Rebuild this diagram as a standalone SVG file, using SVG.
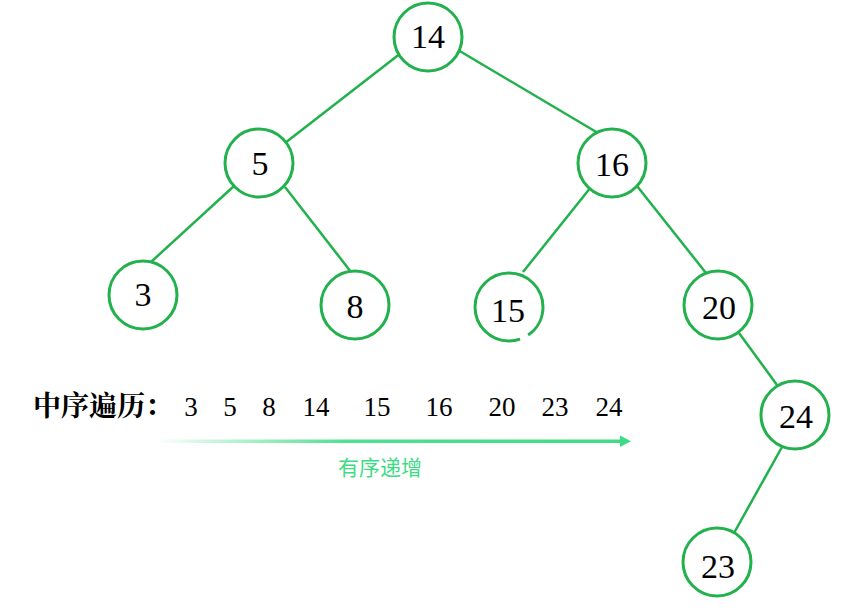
<svg xmlns="http://www.w3.org/2000/svg" width="845" height="615" viewBox="0 0 845 615">
<style>
.n circle{fill:#fff;stroke:#22b14c;stroke-width:3}
.n text{font-family:"Liberation Serif",serif;font-size:34px;text-anchor:middle;fill:#000}
.e line{stroke:#22b14c;stroke-width:2.5}
.t{font-family:"Liberation Serif","Noto Sans CJK SC",serif;font-size:27px;fill:#000;text-anchor:middle}
</style>
<defs>
<linearGradient id="g" x1="155" y1="0" x2="630" y2="0" gradientUnits="userSpaceOnUse">
<stop offset="0" stop-color="#3ddc84" stop-opacity="0"/>
<stop offset="0.4" stop-color="#3ddc84" stop-opacity="0.9"/>
<stop offset="1" stop-color="#3ddc84"/>
</linearGradient>
</defs>
<rect width="845" height="615" fill="#fff"/>
<g id="edges" class="e">
<line x1="401" y1="53" x2="285" y2="143"/>
<line x1="458" y1="50" x2="598" y2="133"/>
<line x1="234" y1="186" x2="151" y2="262"/>
<line x1="285" y1="187" x2="351" y2="272"/>
<line x1="591" y1="187" x2="523" y2="272"/>
<line x1="637" y1="186" x2="706" y2="273"/>
<line x1="739" y1="333" x2="777" y2="385"/>
<line x1="782" y1="447" x2="734" y2="533"/>
</g>
<g id="n14" class="n"><circle cx="428" cy="37" r="34"/><text x="428" y="48">14</text></g>
<g id="n5" class="n"><circle cx="259" cy="163" r="34"/><text x="260" y="175">5</text></g>
<g id="n16" class="n"><circle cx="612" cy="163" r="34"/><text x="612" y="176">16</text></g>
<g id="n3" class="n"><circle cx="143" cy="295" r="34"/><text x="143" y="306">3</text></g>
<g id="n8" class="n"><circle cx="355" cy="305" r="34"/><text x="355" y="318">8</text></g>
<g id="n15" class="n"><circle cx="509" cy="307" r="34" stroke-dasharray="33 9 200"/><text x="508" y="322">15</text></g>
<g id="n20" class="n"><circle cx="718" cy="305" r="34"/><text x="719" y="319">20</text></g>
<g id="n24" class="n"><circle cx="795" cy="415" r="34"/><text x="796" y="428">24</text></g>
<g id="n23" class="n"><circle cx="717" cy="562" r="34"/><text x="718" y="578">23</text></g>
<g id="traversal">
<text x="33" y="416" font-family="'Noto Serif CJK SC','Noto Sans CJK SC',serif" font-size="28" font-weight="bold" fill="#000">中序遍历：</text>
<text class="t" x="191" y="416">3</text>
<text class="t" x="230" y="416">5</text>
<text class="t" x="269" y="416">8</text>
<text class="t" x="316" y="416">14</text>
<text class="t" x="377" y="416">15</text>
<text class="t" x="439" y="416">16</text>
<text class="t" x="502" y="416">20</text>
<text class="t" x="555" y="416">23</text>
<text class="t" x="609" y="416">24</text>
</g>
<g id="arrow">
<rect x="155" y="439.5" width="467" height="3.5" fill="url(#g)"/>
<polygon points="620,435.5 631,441.2 620,447" fill="#3ddc84"/>
<text x="380" y="475" font-family="'Noto Sans CJK SC',sans-serif" font-size="21" fill="#3ddc84" text-anchor="middle">有序递增</text>
</g>
</svg>
